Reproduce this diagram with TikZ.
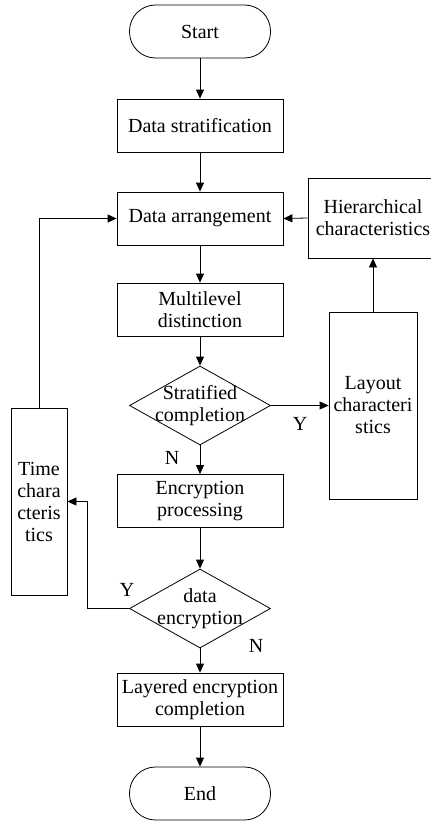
\documentclass[tikz,border=0pt]{standalone}
\usepackage{fontspec}
\setmainfont{Liberation Serif}
\usetikzlibrary{shapes.geometric,arrows.meta}
% text inside a decision that may run over its edges
\newcommand{\dtext}[1]{\smash{\makebox[0pt]{\raisebox{-0.3em}{\begin{tabular}{@{}c@{}}#1\end{tabular}}}}}
\begin{document}
\begin{tikzpicture}[x=1pt,y=-1pt,line width=0.8pt,
	font=\fontsize{20}{22}\selectfont,
	proc/.style={draw,rectangle,minimum width=166pt,minimum height=53pt,inner sep=2pt,align=center},
	term/.style={draw,rectangle,rounded corners=26pt,minimum width=141pt,minimum height=53pt},
	decision/.style={draw,diamond,minimum width=141pt,minimum height=79pt,inner sep=0pt},
	side/.style={draw,rectangle,inner sep=0pt,align=center},
	yn/.style={inner sep=0pt},
	flow/.style={-{Triangle[length=9pt,width=8pt]}}]
	\useasboundingbox (0,0) rectangle (431,822);
	\node[term] at (200,31.5) (start) {Start};
	\node[proc] at (200,125.5) (strat) {Data stratification};
	\node[proc] at (200,218.5) (arr) {Data arrangement};
	\node[proc] at (200,309.5) (multi) {Multilevel\\distinction};
	\node[decision] at (200,405.5) (done) {\dtext{Stratified\\completion}};
	\node[proc] at (200,501) (enc) {Encryption\\processing};
	\node[decision] at (200,608.5) (dataenc) {\dtext{data\\encryption}};
	\node[proc] at (200,699.5) (layer) {Layered encryption\\completion};
	\node[term] at (200,793.5) (end) {End};
	\node[side,minimum width=130pt,minimum height=80pt] at (373,218) (hier) {Hierarchical\\characteristics};
	\node[side,minimum width=88pt,minimum height=187pt] at (373,405.5) (layout) {Layout\\characteri\\stics};
	\node[side,minimum width=56pt,minimum height=187pt] at (39,501.5) (time) {Time\\chara\\cteris\\tics};
	\draw[flow] (start) -- (strat);
	\draw[flow] (strat) -- (arr);
	\draw[flow] (arr) -- (multi);
	\draw[flow] (multi) -- (done);
	\draw[flow] (done) -- (enc) node[yn] at (172,458) (n1) {N};
	\draw[flow] (done.east) -- (layout.west) node[yn] at (300,424) (y1) {Y};
	\draw[flow] (layout.north) -- (hier.south);
	\draw[flow] (hier.west) -- (arr.east);
	\draw[flow] (time.north) |- (arr.west);
	\draw[flow] (enc) -- (dataenc);
	\draw[flow] (dataenc.west) -- ++(-42,0) |- (time.east) node[yn] at (127,590) (y2) {Y};
	\draw[flow] (dataenc) -- (layer) node[yn] at (256,646) (n2) {N};
	\draw[flow] (layer) -- (end);
\end{tikzpicture}
\end{document}
